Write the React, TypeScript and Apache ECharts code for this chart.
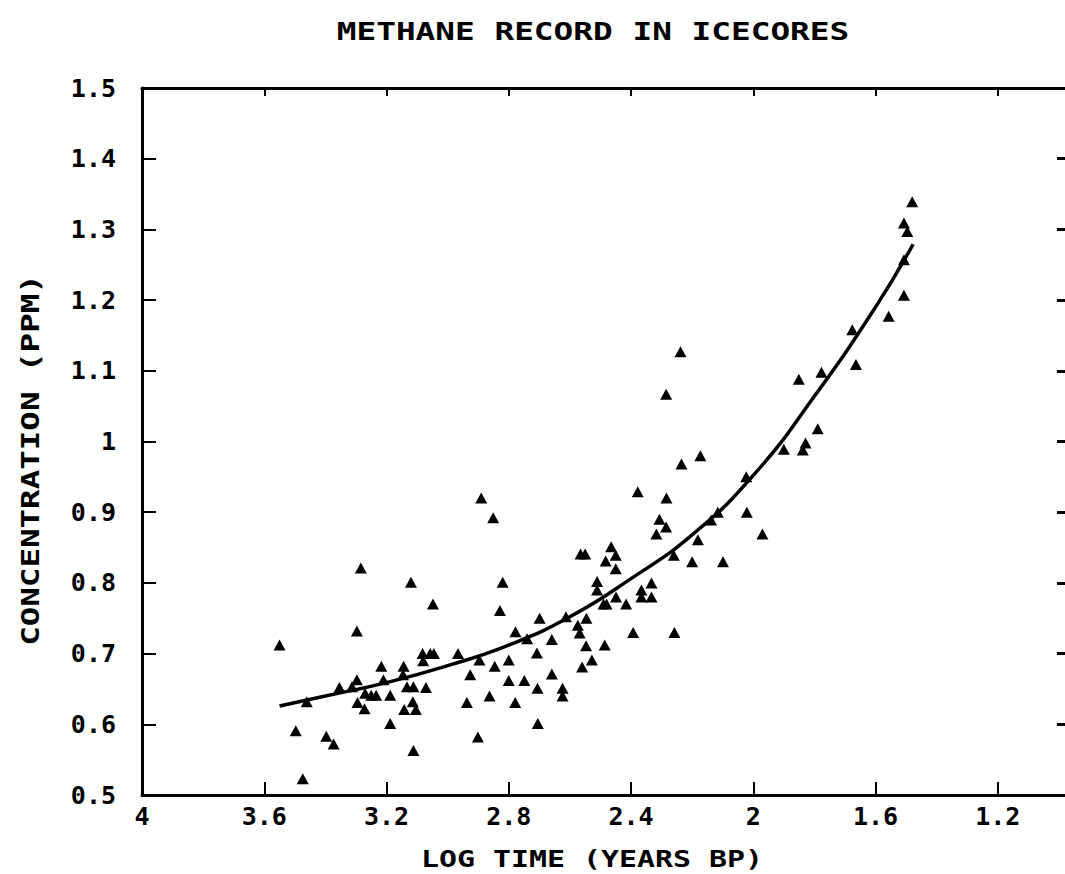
import React, { useEffect, useRef } from "react";
import * as echarts from "echarts";

// ---- data ----
const titleText = "METHANE RECORD IN ICECORES";
const xName = "LOG TIME (YEARS BP)";
const yName = "CONCENTRATION (PPM)";

const xTicks = [4, 3.6, 3.2, 2.8, 2.4, 2, 1.6, 1.2];

const pointX = [
  3.55, 3.497, 3.474, 3.461, 3.397, 3.373, 3.354, 3.313, 3.297, 3.297,
  3.284, 3.295, 3.272, 3.27, 3.25, 3.234, 3.217, 3.21, 3.188, 3.188,
  3.146, 3.144, 3.133, 3.112, 3.142, 3.114, 3.104, 3.112, 3.12, 3.082,
  3.057, 3.045, 3.08, 3.071, 3.048, 2.966, 2.937, 2.926, 2.901, 2.896,
  2.89, 2.863, 2.851, 2.846, 2.829, 2.82, 2.8, 2.8, 2.779, 2.778,
  2.749, 2.74, 2.708, 2.706, 2.705, 2.699, 2.659, 2.659, 2.624, 2.624,
  2.613, 2.574, 2.568, 2.565, 2.55, 2.56, 2.547, 2.546, 2.528, 2.511,
  2.511, 2.49, 2.48, 2.486, 2.483, 2.465, 2.45, 2.45, 2.449, 2.416,
  2.393, 2.378, 2.366, 2.366, 2.333, 2.333, 2.317, 2.307, 2.285, 2.284,
  2.285, 2.26, 2.258, 2.238, 2.235, 2.2, 2.181, 2.173, 2.138, 2.116,
  2.099, 2.023, 2.021, 1.97, 1.9, 1.851, 1.838, 1.829, 1.789, 1.777,
  1.676, 1.664, 1.557, 1.507, 1.507, 1.507, 1.496, 1.48,
];
const pointY = [
  0.712, 0.591, 0.523, 0.632, 0.583, 0.572, 0.652, 0.653, 0.663, 0.732,
  0.821, 0.631, 0.622, 0.644, 0.641, 0.641, 0.682, 0.663, 0.641, 0.601,
  0.67, 0.682, 0.653, 0.653, 0.621, 0.632, 0.621, 0.563, 0.801, 0.7,
  0.7, 0.7, 0.69, 0.652, 0.77, 0.7, 0.631, 0.67, 0.582, 0.691,
  0.92, 0.64, 0.892, 0.682, 0.761, 0.801, 0.691, 0.662, 0.631, 0.731,
  0.662, 0.721, 0.701, 0.651, 0.601, 0.75, 0.72, 0.671, 0.651, 0.64,
  0.752, 0.74, 0.729, 0.841, 0.841, 0.681, 0.711, 0.75, 0.691, 0.802,
  0.79, 0.77, 0.77, 0.712, 0.831, 0.851, 0.839, 0.82, 0.78, 0.77,
  0.73, 0.929, 0.79, 0.78, 0.8, 0.78, 0.869, 0.89, 0.879, 0.92,
  1.067, 0.839, 0.73, 1.127, 0.968, 0.83, 0.861, 0.98, 0.889, 0.9,
  0.83, 0.95, 0.9, 0.869, 0.989, 1.088, 0.988, 0.998, 1.018, 1.098,
  1.158, 1.109, 1.177, 1.207, 1.257, 1.309, 1.297, 1.339,
];

const curveX = [3.55, 3.4, 3.2, 3.0, 2.8, 2.6, 2.4, 2.2, 2.0, 1.8, 1.6, 1.477];
const curveY = [0.626, 0.64, 0.659, 0.683, 0.712, 0.752, 0.806, 0.868, 0.952, 1.064, 1.19, 1.279];

const FONT = '"DejaVu Sans Mono", monospace';

export default function App() {
  const ref = useRef<HTMLDivElement>(null);

  useEffect(() => {
    const chart = echarts.init(ref.current as HTMLDivElement, null, { renderer: "svg" });
    const points = pointX.map((x, i) => [x, pointY[i]]);
    const curve = curveX.map((x, i) => [x, curveY[i]]);

    const axisCommon = {
      type: "value",
      splitLine: { show: false },
    };

    chart.setOption({
      animation: false,
      backgroundColor: "#fff",
      grid: { left: 142, right: 0, top: 88, bottom: 79 },
      xAxis: [
        {
          ...axisCommon,
          position: "bottom",
          min: 0.98,
          max: 4,
          inverse: true,
          axisLine: { show: true, lineStyle: { color: "#000", width: 3 } },
          axisTick: {
            show: true,
            inside: true,
            length: 13,
            customValues: xTicks,
            lineStyle: { color: "#000", width: 2 },
          },
          axisLabel: {
            show: true,
            customValues: xTicks,
            margin: 9,
            color: "#000",
            fontFamily: FONT,
            fontWeight: "bold",
            fontSize: 25,
          },
        },
        {
          ...axisCommon,
          position: "top",
          min: 0.98,
          max: 4,
          inverse: true,
          axisLine: { show: true, lineStyle: { color: "#000", width: 3 } },
          axisTick: {
            show: true,
            inside: true,
            length: 8,
            customValues: xTicks,
            lineStyle: { color: "#000", width: 2 },
          },
          axisLabel: { show: false },
        },
      ],
      yAxis: [
        {
          ...axisCommon,
          position: "left",
          min: 0.5,
          max: 1.5,
          interval: 0.1,
          axisLine: { show: true, lineStyle: { color: "#000", width: 3 } },
          axisTick: { show: true, inside: true, length: 14, lineStyle: { color: "#000", width: 2 } },
          axisLabel: {
            show: true,
            margin: 26,
            color: "#000",
            fontFamily: FONT,
            fontWeight: "bold",
            fontSize: 25,
          },
        },
        {
          ...axisCommon,
          position: "right",
          min: 0.5,
          max: 1.5,
          interval: 0.1,
          axisLine: { show: false },
          axisTick: { show: true, inside: true, length: 8, lineStyle: { color: "#000", width: 3 } },
          axisLabel: { show: false },
        },
      ],
      graphic: [
        {
          type: "text",
          x: 593,
          y: 31,
          scaleX: 1.31,
          style: {
            text: titleText,
            font: 'bold 25px "DejaVu Sans Mono", monospace',
            fill: "#000",
            textAlign: "center",
            textVerticalAlign: "middle",
          },
        },
        {
          type: "text",
          x: 592,
          y: 859,
          scaleX: 1.3,
          style: {
            text: xName,
            font: 'bold 23px "DejaVu Sans Mono", monospace',
            fill: "#000",
            textAlign: "center",
            textVerticalAlign: "middle",
          },
        },
        {
          type: "text",
          x: 30,
          y: 460,
          rotation: Math.PI / 2,
          scaleX: 1.3,
          style: {
            text: yName,
            font: 'bold 25px "DejaVu Sans Mono", monospace',
            fill: "#000",
            textAlign: "center",
            textVerticalAlign: "middle",
          },
        },
      ],
      series: [
        {
          type: "scatter",
          xAxisIndex: 0,
          yAxisIndex: 0,
          data: points,
          symbol: "triangle",
          symbolSize: [12, 11],
          itemStyle: { color: "#000", opacity: 1 },
          z: 3,
        },
        {
          type: "line",
          xAxisIndex: 0,
          yAxisIndex: 0,
          data: curve,
          smooth: true,
          showSymbol: false,
          lineStyle: { color: "#000", width: 3.5 },
          z: 4,
        },
      ],
    });

    return () => chart.dispose();
  }, []);

  return (
    <div
      ref={ref}
      style={{ position: "fixed", left: 0, top: 0, width: 1065, height: 874, background: "#fff" }}
    />
  );
}
